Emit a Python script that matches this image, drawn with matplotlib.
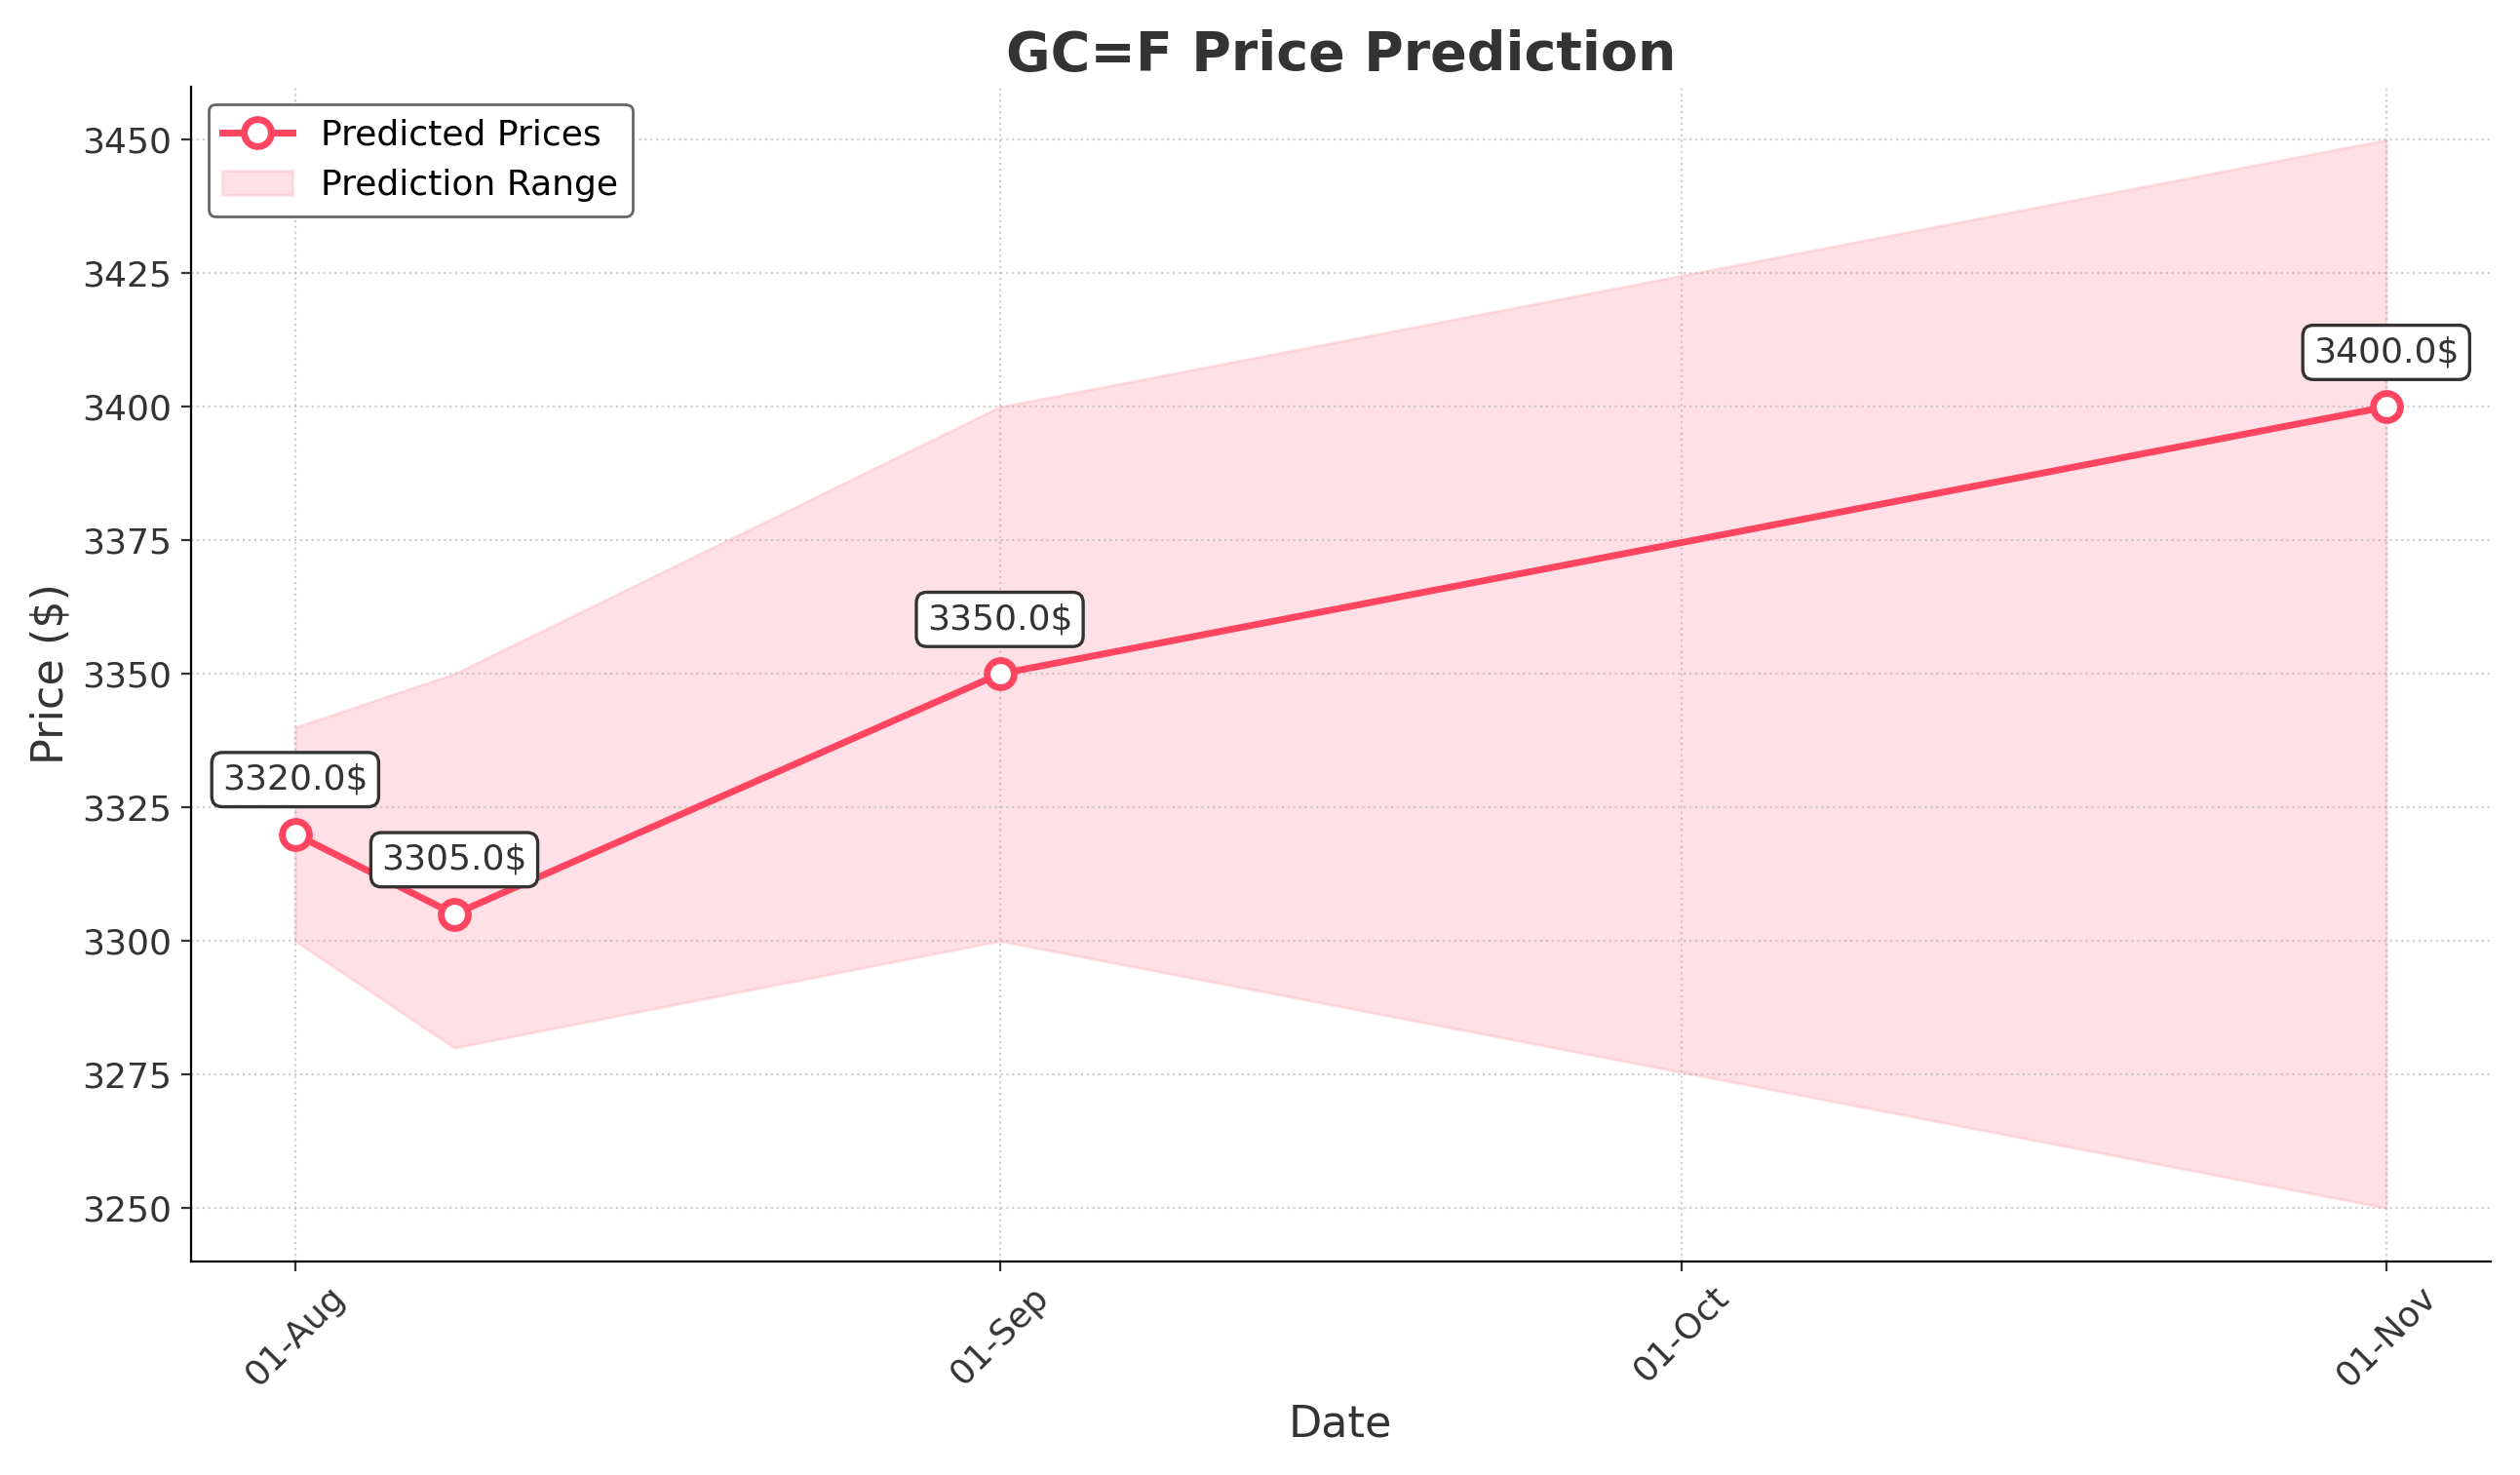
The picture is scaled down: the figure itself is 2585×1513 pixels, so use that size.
import pandas as pd
import matplotlib.pyplot as plt
import matplotlib.dates as mdates

dates = pd.to_datetime(["2025-08-01", "2025-08-08", "2025-09-01", "2025-11-01"])
predicted = [3320.0, 3305.0, 3350.0, 3400.0]
lower = [3300, 3280, 3300, 3250]
upper = [3340, 3350, 3400, 3450]

line_color = "#ff4560"

fig, ax = plt.subplots(figsize=(12.925, 7.565), dpi=200)
ax.plot(dates, predicted, "-o", color=line_color, linewidth=2.5, markersize=10,
        markerfacecolor="white", markeredgewidth=2.5, label="Predicted Prices", zorder=3)
ax.fill_between(dates, lower, upper, color="#ffb3c1", alpha=0.4, label="Prediction Range")

for d, p in zip(dates, predicted):
    ax.annotate(f"{p}$", (d, p), xytext=(0, 14), textcoords="offset points",
                ha="center", va="bottom", fontsize=13, color="#333333",
                bbox=dict(boxstyle="round,pad=0.3", fc="white", ec="#333333", lw=1.2))

ax.set_title("GC=F Price Prediction", fontsize=20, fontweight="bold", color="#333333")
ax.set_xlabel("Date", fontsize=16, color="#333333")
ax.set_ylabel("Price ($)", fontsize=16, color="#333333")
ax.set_ylim(3240, 3460)
ax.xaxis.set_major_locator(mdates.MonthLocator())
ax.xaxis.set_major_formatter(mdates.DateFormatter("%d-%b"))
plt.setp(ax.get_xticklabels(), rotation=45)
ax.tick_params(labelsize=13, colors="#333333")
ax.grid(True, linestyle=":", alpha=0.6)
ax.spines["top"].set_visible(False)
ax.spines["right"].set_visible(False)
leg = ax.legend(loc="upper left", fontsize=13, framealpha=1)
leg.get_frame().set_edgecolor("#666666")

plt.tight_layout()
plt.savefig("out.png", dpi=200)
